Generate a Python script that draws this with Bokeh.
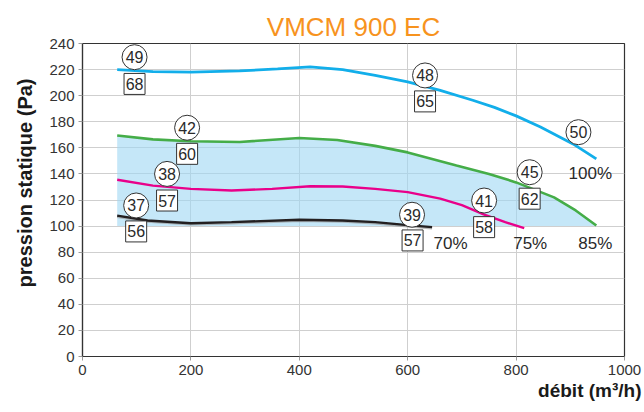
from bokeh.plotting import figure
from bokeh.models import Range1d, Title, FixedTicker
from bokeh.embed import file_html
from bokeh.resources import INLINE
from bokeh.core.properties import value

# ---------------- data ----------------
title_text = "VMCM 900 EC"
x_label = "débit (m³/h)"
y_label = "pression statique (Pa)"
x_ticks = [0, 200, 400, 600, 800, 1000]
y_ticks = [0, 20, 40, 60, 80, 100, 120, 140, 160, 180, 200, 220, 240]

# 100% curve
blue_x = [64, 130, 200, 290, 360, 420, 480, 540, 600, 660, 720, 760, 800, 845, 905, 948]
blue_y = [220, 218.5, 218, 219, 220.5, 222, 220, 215.5, 210.5, 204, 196.5, 191, 184.5, 176, 163, 151.5]
# 85% curve
green_x = [64, 130, 200, 290, 400, 470, 540, 600, 690, 750, 800, 870, 910, 948]
green_y = [169.5, 166.5, 165, 164.5, 167.5, 166, 161.5, 156.5, 146.5, 140, 133.5, 122, 112, 100.5]
# 75% curve
pink_x = [64, 130, 200, 275, 350, 420, 480, 540, 600, 660, 700, 740, 780, 815]
pink_y = [135.5, 131, 128.5, 127.3, 128.5, 130.5, 130.3, 128.5, 126, 121, 116, 109, 103, 98.5]
# 70% curve
black_x = [64, 120, 200, 275, 400, 480, 540, 600, 645]
black_y = [108, 104.3, 102.2, 103, 104.8, 104.3, 103, 100.7, 99.2]

fill_floor = 100  # lower bound of the shaded zone

# circled values
circle_vals = ["49", "48", "50", "42", "45", "38", "41", "37", "39"]
circle_x = [96, 632, 915, 193, 825, 156, 741, 99, 608]
circle_y = [229.5, 215.5, 172, 175.4, 141.3, 140, 119.6, 115.8, 108.7]
# boxed values
box_vals = ["68", "65", "60", "62", "57", "58", "56", "57"]
box_x = [96, 632, 193, 825, 156, 741, 99, 609]
box_y = [209, 195.6, 155.4, 121, 119.6, 99.2, 95.9, 89]
# speed labels
speed_vals = ["100%", "85%", "75%", "70%"]
speed_x = [937, 946, 826, 679]
speed_y = [140.6, 86.4, 86.4, 86.4]

# ---------------- styles ----------------
FONT = "Liberation Sans"
C_BLUE = "#12aeea"
C_GREEN = "#45ad48"
C_PINK = "#e9008a"
C_BLACK = "#231f20"
C_FILL = "#9ed7f3"
C_TITLE = "#f7931e"
C_TEXT = "#2a2a2a"

p = figure(width=644, height=412, output_backend="svg", toolbar_location=None,
           x_range=Range1d(0, 1000), y_range=Range1d(0, 240),
           min_border_left=81, min_border_right=20, min_border_top=43, min_border_bottom=56)
p.background_fill_color = "white"
p.border_fill_color = "white"
p.outline_line_color = "#333333"
p.outline_line_width = 1.2

p.title.text = title_text
p.title.align = "center"
p.title.text_font = FONT
p.title.text_font_size = "26px"
p.title.text_font_style = "normal"
p.title.text_color = C_TITLE
p.title.standoff = 4

for ax in (p.xaxis[0], p.yaxis[0]):
    ax.axis_line_color = "#333333"
    ax.axis_line_width = 1.2
    ax.major_tick_line_color = "#9a9a9a"
    ax.major_tick_in = 0
    ax.major_tick_out = 4
    ax.minor_tick_line_color = None
    ax.major_label_text_font = FONT
    ax.major_label_text_font_size = "15px"
    ax.major_label_text_color = "#333333"
    ax.major_label_standoff = 4

p.xaxis[0].ticker = FixedTicker(ticks=x_ticks)
p.yaxis[0].ticker = FixedTicker(ticks=y_ticks)

p.xgrid[0].ticker = FixedTicker(ticks=x_ticks)
p.ygrid[0].ticker = FixedTicker(ticks=y_ticks)
for g in (p.xgrid[0], p.ygrid[0]):
    g.grid_line_color = "#cfcfcf"
    g.grid_line_width = 1

# axis titles as side titles
p.add_layout(Title(text=x_label, align="right", offset=-17, standoff=0,
                   text_font=FONT, text_font_size="19px", text_font_style="bold",
                   text_color="#1a1a1a"), "below")
p.add_layout(Title(text=y_label, align="right", offset=35, standoff=22,
                   text_font=FONT, text_font_size="20px", text_font_style="bold",
                   text_color="#1a1a1a"), "left")

# shaded zone
p.varea(x=green_x, y1=[fill_floor] * len(green_x), y2=green_y,
        fill_color=C_FILL, fill_alpha=0.6)

# curves
p.line(black_x, [v - 0.8 for v in black_y], line_color="#9a9a9a", line_width=2.5, line_alpha=0.7)
p.line(black_x, black_y, line_color=C_BLACK, line_width=2.4)
p.line(pink_x, pink_y, line_color=C_PINK, line_width=2.4)
p.line(green_x, green_y, line_color=C_GREEN, line_width=2.6)
p.line(blue_x, blue_y, line_color=C_BLUE, line_width=2.8)

# circled values
p.scatter(circle_x, circle_y, marker="circle", size=25, fill_color="white",
          line_color="#333333", line_width=1)
p.text(circle_x, circle_y, text=circle_vals, text_align="center", text_baseline="middle",
       text_font=value(FONT), text_font_size="16px", text_color=C_TEXT)

# boxed values
p.scatter(box_x, box_y, marker="square", size=21, fill_color="white",
          line_color="#333333", line_width=1)
p.text(box_x, box_y, text=box_vals, text_align="center", text_baseline="middle",
       text_font=value(FONT), text_font_size="16px", text_color=C_TEXT)

# speed labels
p.text(speed_x, speed_y, text=speed_vals, text_align="center", text_baseline="middle",
       text_font=value(FONT), text_font_size="17px", text_color=C_TEXT)

open("out.html", "w").write(file_html(p, INLINE))
